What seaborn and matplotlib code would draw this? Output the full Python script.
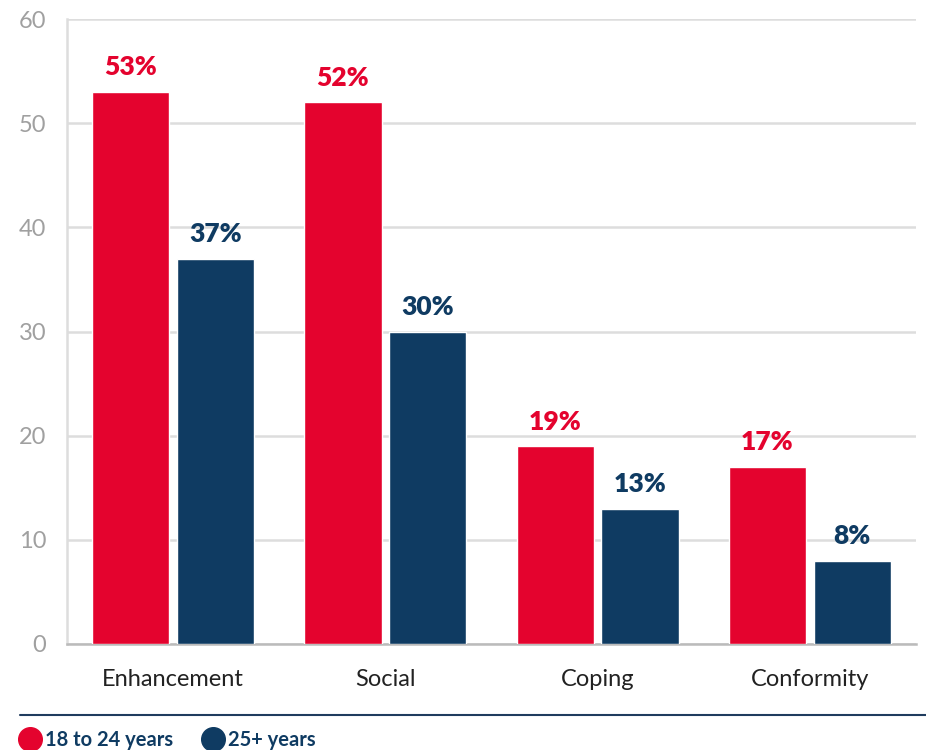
import matplotlib
matplotlib.use("Agg")
import matplotlib.pyplot as plt
from matplotlib.lines import Line2D
import seaborn as sns
import pandas as pd

categories = ["Enhancement", "Social", "Coping", "Conformity"]
series_names = ["18 to 24 years", "25+ years"]
young = [53, 52, 19, 17]
older = [37, 30, 13, 8]
yticks = [0, 10, 20, 30, 40, 50, 60]

RED = "#e4032e"
NAVY = "#0f3b62"

df = pd.DataFrame({
    "category": categories * 2,
    "group": [series_names[0]] * 4 + [series_names[1]] * 4,
    "value": young + older,
})

sns.set_theme(style="white")
plt.rcParams["font.family"] = ["Lato", "DejaVu Sans"]

fig = plt.figure(figsize=(9.26, 7.5), dpi=100)
ax = fig.add_axes([67/926, 1-644/750, (916-67)/926, (644-19)/750])

sns.barplot(data=df, x="category", y="value", hue="group", order=categories,
            hue_order=series_names, palette=[RED, NAVY], width=0.8, gap=0.09,
            saturation=1, ax=ax, legend=False, zorder=3)

ax.set_ylim(0, 60)
ax.set_xlim(-0.5, 3.5)
ax.set_yticks(yticks)
ax.set_yticklabels([str(t) for t in yticks], color="#a0a0a0", fontsize=17)
ax.tick_params(axis="y", length=0, pad=15)
ax.tick_params(axis="x", length=0, pad=18, labelsize=17, labelcolor="#222222")
ax.set_xlabel("")
ax.set_ylabel("")
ax.grid(axis="y", color="#dddddd", lw=1.8, zorder=0)
ax.set_axisbelow(True)
for s in ["top", "right"]:
    ax.spines[s].set_visible(False)
ax.spines["left"].set_color("#dddddd")
ax.spines["left"].set_linewidth(1.8)
ax.spines["bottom"].set_color("#bbbbbb")
ax.spines["bottom"].set_linewidth(1.8)

for cont, col in zip(ax.containers, [RED, NAVY]):
    labels = [f"{int(v)}%" for v in cont.datavalues]
    ax.bar_label(cont, labels=labels, padding=9, color=col, fontsize=19,
                 fontweight="heavy")

fig.add_artist(Line2D([20/926, 1.0], [1-715/750]*2, transform=fig.transFigure,
                      color="#1f3c5e", lw=1.5))
handles = [Line2D([], [], marker="o", ls="", markersize=17, color=c) for c in [RED, NAVY]]
leg = fig.legend(handles, series_names, loc="lower left", bbox_to_anchor=(0.004, -0.024),
                 ncol=2, frameon=False, handletextpad=0.35, columnspacing=1.6,
                 handlelength=0.8, prop={"size": 14.5, "weight": "bold"})
for t in leg.get_texts():
    t.set_color(NAVY)

fig.savefig("out.png", dpi=100)
